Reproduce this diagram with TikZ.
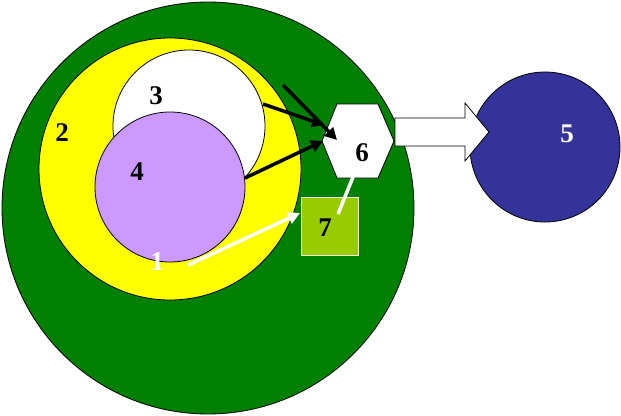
\documentclass[tikz,border=0pt]{standalone}
\usepackage{fontspec}
\setmainfont{Liberation Serif}
\usetikzlibrary{arrows.meta}
\definecolor{bgreen}{RGB}{0,128,0}
\definecolor{byellow}{RGB}{255,255,0}
\definecolor{lilac}{RGB}{204,153,255}
\definecolor{lgreen}{RGB}{153,204,0}
\definecolor{navy5}{RGB}{51,51,153}
\tikzset{
  ring/.style={circle,draw=black,line width=0.8pt,inner sep=0pt},
  lbl/.style={font=\fontsize{27}{27}\selectfont\bfseries,inner sep=0pt},
  blackarrow/.style={line width=3.5pt,-{Triangle[length=12pt,width=12pt]}},
  whitearrow/.style={white,line width=3.5pt,-{Triangle[length=12pt,width=12pt]}},
  outline/.style={draw=black,line width=0.8pt,fill=white},
}
\begin{document}
\begin{tikzpicture}[x=1pt,y=-1pt]
\useasboundingbox (0,0) rectangle (621,415);
% circles
\node[ring,fill=bgreen,minimum size=412pt] (g) at (208,208) {};
\node[ring,fill=byellow,minimum size=262pt] (y) at (170,169) {};
\node[ring,fill=white,minimum size=152pt] (w) at (189,126) {};
\node[ring,fill=lilac,minimum size=150pt] (p) at (170,187) {};
\node[ring,fill=navy5,minimum size=150pt] (b) at (545,147) {};
% box 7
\node[draw=white!85!lgreen,line width=0.8pt,fill=lgreen,minimum width=57pt,minimum height=58pt,inner sep=0pt] (s) at (329.5,226) {};
% hexagon 6
\draw[outline] (322,141) -- (337,104) -- (378,104) -- (394,141) -- (378,178) -- (337,178) -- cycle;
% block arrow
\draw[outline] (395,118) -- (465,118) -- (465,103) -- (489,132) -- (465,161) -- (465,146) -- (395,146) -- cycle;
% labels
\node[lbl] (l2) at (62,133) {2};
\node[lbl] (l3) at (156,96) {3};
\node[lbl] (l4) at (137,172) {4};
\node[lbl,white] (l1) at (157,262) {1};
\node[lbl] (l6) at (362,153) {6};
\node[lbl] (l7) at (325,228) {7};
\node[lbl,white] (l5) at (567,134) {5};
% connectors
\coordinate (a1s) at (263,104);
\coordinate (a1e) at (324,125);
\coordinate (a2s) at (283,85);
\coordinate (a2e) at (337,140);
\coordinate (a3s) at (245,178);
\coordinate (a3e) at (323,141);
\draw[blackarrow] (a1s) -- (a1e);
\draw[blackarrow] (a2s) -- (a2e);
\draw[blackarrow] (a3s) -- (a3e);
\coordinate (w1s) at (188,265);
\coordinate (w1e) at (300,213);
\draw[whitearrow] (w1s) -- (w1e);
\coordinate (w2s) at (353,177);
\coordinate (w2e) at (338,214);
\draw[white,line width=3.5pt] (w2s) -- (w2e);
\end{tikzpicture}
\end{document}
